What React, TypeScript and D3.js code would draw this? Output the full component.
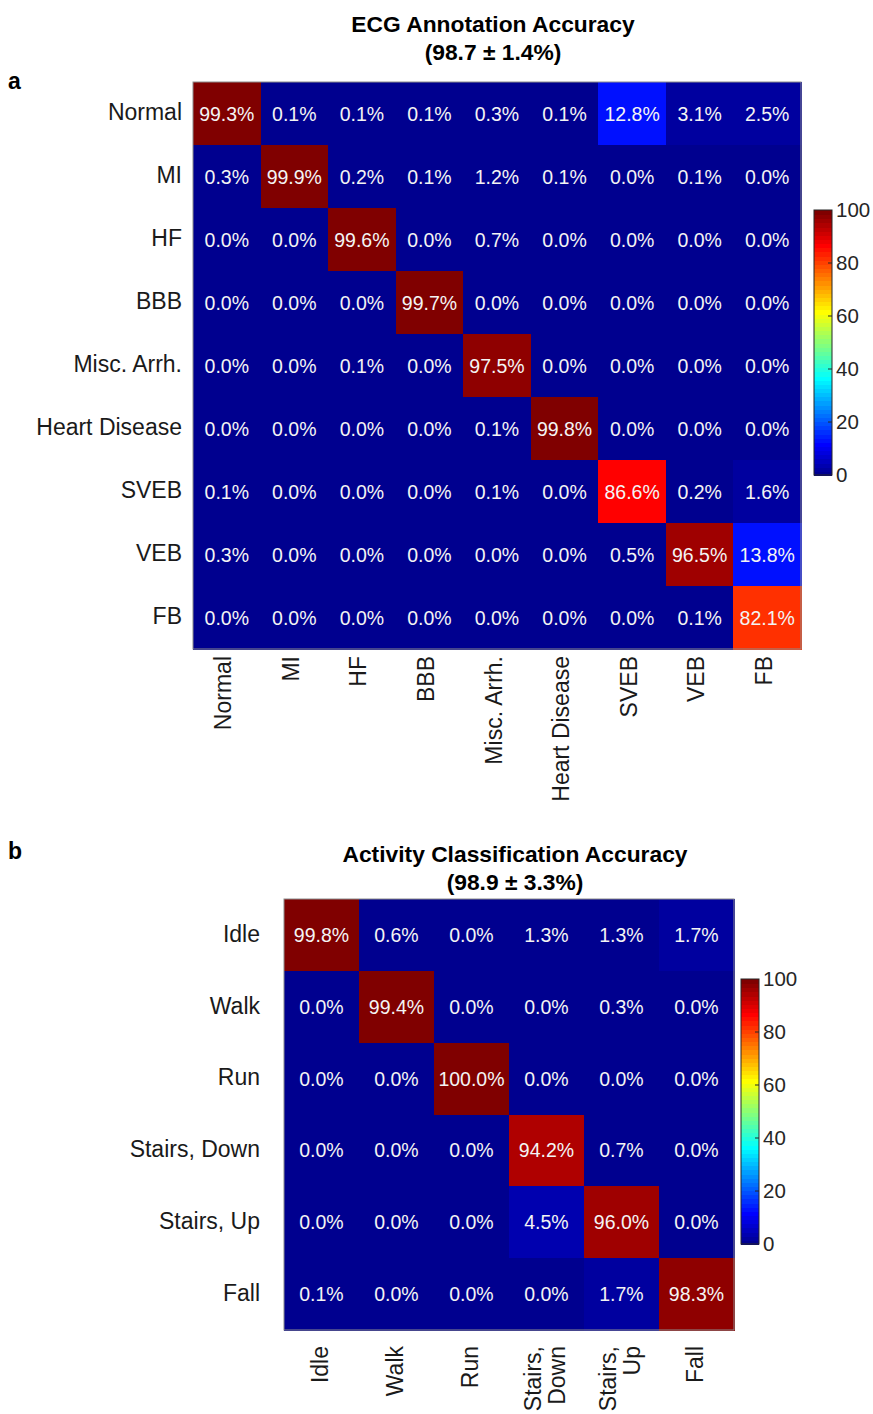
import React from "react";
import * as d3 from "d3";

// ---------- data ----------
const ecgClasses = ["Normal", "MI", "HF", "BBB", "Misc. Arrh.", "Heart Disease", "SVEB", "VEB", "FB"];
const ecgMatrix = [
  [99.3, 0.1, 0.1, 0.1, 0.3, 0.1, 12.8, 3.1, 2.5],
  [0.3, 99.9, 0.2, 0.1, 1.2, 0.1, 0.0, 0.1, 0.0],
  [0.0, 0.0, 99.6, 0.0, 0.7, 0.0, 0.0, 0.0, 0.0],
  [0.0, 0.0, 0.0, 99.7, 0.0, 0.0, 0.0, 0.0, 0.0],
  [0.0, 0.0, 0.1, 0.0, 97.5, 0.0, 0.0, 0.0, 0.0],
  [0.0, 0.0, 0.0, 0.0, 0.1, 99.8, 0.0, 0.0, 0.0],
  [0.1, 0.0, 0.0, 0.0, 0.1, 0.0, 86.6, 0.2, 1.6],
  [0.3, 0.0, 0.0, 0.0, 0.0, 0.0, 0.5, 96.5, 13.8],
  [0.0, 0.0, 0.0, 0.0, 0.0, 0.0, 0.0, 0.1, 82.1],
];
const ecgTitle = ["ECG Annotation Accuracy", "(98.7 ± 1.4%)"];

const activityRows = ["Idle", "Walk", "Run", "Stairs, Down", "Stairs, Up", "Fall"];
const activityCols = [["Idle"], ["Walk"], ["Run"], ["Stairs,", "Down"], ["Stairs,", "Up"], ["Fall"]];
const activityMatrix = [
  [99.8, 0.6, 0.0, 1.3, 1.3, 1.7],
  [0.0, 99.4, 0.0, 0.0, 0.3, 0.0],
  [0.0, 0.0, 100.0, 0.0, 0.0, 0.0],
  [0.0, 0.0, 0.0, 94.2, 0.7, 0.0],
  [0.0, 0.0, 0.0, 4.5, 96.0, 0.0],
  [0.1, 0.0, 0.0, 0.0, 1.7, 98.3],
];
const activityTitle = ["Activity Classification Accuracy", "(98.9 ± 3.3%)"];

const colorbarTicks = [0, 20, 40, 60, 80, 100];

// ---------- jet colormap (64 levels) ----------
const LEVELS = 64;
function jetLevel(i: number): string {
  // i is a 1-based level index
  const n = LEVELS / 4;
  const u = (j: number) => {
    if (j < 1 || j > 3 * n - 1) return 0;
    if (j <= n) return j / n;
    if (j < 2 * n) return 1;
    return (3 * n - j) / n;
  };
  const r = u(i - (n + n / 2));
  const g = u(i - n / 2);
  const b = u(i + n / 2);
  return d3.rgb(r * 255, g * 255, b * 255).formatHex();
}
const jet = (v: number) => jetLevel(Math.min(LEVELS, Math.floor((v / 100) * LEVELS) + 1));

const FONT = "'Liberation Sans', Arial, Helvetica, sans-serif";
const INK = "#1a1a1a";
const LABEL_SIZE = 23;

type HeatProps = {
  rows: string[];
  cols: string[][];
  matrix: number[][];
  title: string[];
  letter: string;
  left: number; right: number; top: number; bottom: number;
  titleX: number; titleY: number;
  letterY: number;
  yLabelGap: number; xLabelGap: number; xLabelDy: string;
  cbLeft: number; cbTop: number;
};

function Heatmap(p: HeatProps) {
  const colKeys = p.cols.map((c) => c.join(" "));
  const x = d3.scaleBand<string>().domain(colKeys).range([p.left, p.right]);
  const y = d3.scaleBand<string>().domain(p.rows).range([p.top, p.bottom]);
  const cbW = 18, cbH = 265;
  const cbY = d3.scaleLinear().domain([0, 100]).range([p.cbTop + cbH, p.cbTop]);
  const bands = d3.range(LEVELS);
  return (
    <g fontFamily={FONT}>
      <text x={8} y={p.letterY} fontSize={23} fontWeight="bold" fill="#000">{p.letter}</text>
      {p.title.map((t, i) => (
        <text key={i} x={p.titleX} y={p.titleY + i * 28} textAnchor="middle" fontSize={22.8} fontWeight="bold" fill="#000">{t}</text>
      ))}
      <g shapeRendering="crispEdges">
        {p.matrix.map((row, ri) =>
          row.map((v, ci) => (
            <rect key={`c${ri}-${ci}`} x={x(colKeys[ci])} y={y(p.rows[ri])} width={x.bandwidth() + 1} height={y.bandwidth() + 1} fill={jet(v)} />
          ))
        )}
      </g>
      <rect x={p.left} y={p.top} width={p.right - p.left} height={p.bottom - p.top} fill="none" stroke="#8c8c8c" strokeWidth={1} />
      {p.matrix.map((row, ri) =>
        row.map((v, ci) => (
          <text key={`t${ri}-${ci}`} x={x(colKeys[ci])! + x.bandwidth() / 2} y={y(p.rows[ri])! + y.bandwidth() / 2} dy="0.36em" textAnchor="middle" fontSize={19.5} fill="#f4f4f4">
            {v.toFixed(1) + "%"}
          </text>
        ))
      )}
      {p.rows.map((r) => (
        <text key={`y${r}`} x={p.left - p.yLabelGap} y={y(r)! + y.bandwidth() / 2} dy="0.3em" textAnchor="end" fontSize={LABEL_SIZE} fill={INK}>{r}</text>
      ))}
      {p.cols.map((lines, ci) => {
        const cx = x(colKeys[ci])! + x.bandwidth() / 2;
        const lh = 24;
        const off = -((lines.length - 1) * lh) / 2;
        return lines.map((ln, li) => (
          <text key={`x${ci}-${li}`} transform={`translate(${cx + off + li * lh},${p.bottom + p.xLabelGap}) rotate(-90)`} dy={p.xLabelDy} textAnchor="end" fontSize={LABEL_SIZE} fill={INK}>{ln}</text>
        ));
      })}
      {/* colorbar */}
      <g shapeRendering="crispEdges">
        {bands.map((b) => {
          const y0 = cbY((b / LEVELS) * 100);
          const y1 = cbY(((b + 1) / LEVELS) * 100);
          return <rect key={`cb${b}`} x={p.cbLeft} y={y1} width={cbW} height={y0 - y1 + 1} fill={jetLevel(b + 1)} />;
        })}
      </g>
      <rect x={p.cbLeft} y={p.cbTop} width={cbW} height={cbH} fill="none" stroke="#262626" strokeWidth={1} />
      {colorbarTicks.map((t) => (
        <g key={`cbt${t}`}>
          {t > 0 && t < 100 && <line x1={p.cbLeft + cbW} x2={p.cbLeft + cbW - 4} y1={cbY(t)} y2={cbY(t)} stroke="#262626" />}
          <text x={p.cbLeft + cbW + 4} y={cbY(t)} dy="0.36em" fontSize={20.5} fill="#262626">{t}</text>
        </g>
      ))}
    </g>
  );
}

export default function App() {
  return (
    <svg width={873} height={1414} style={{ position: "absolute", left: 0, top: 0, background: "#fff" }}>
      <rect width={873} height={1414} fill="#fff" />
      <Heatmap
        rows={ecgClasses}
        cols={ecgClasses.map((c) => [c])}
        matrix={ecgMatrix}
        title={ecgTitle}
        letter="a"
        left={193} right={801} top={82} bottom={649}
        titleX={493} titleY={32}
        letterY={89}
        yLabelGap={11} xLabelGap={7} xLabelDy="0.2em"
        cbLeft={814} cbTop={210}
      />
      <Heatmap
        rows={activityRows}
        cols={activityCols}
        matrix={activityMatrix}
        title={activityTitle}
        letter="b"
        left={284} right={734} top={899} bottom={1330}
        titleX={515} titleY={862}
        letterY={859}
        yLabelGap={24} xLabelGap={16} xLabelDy="0.27em"
        cbLeft={741} cbTop={979}
      />
    </svg>
  );
}
